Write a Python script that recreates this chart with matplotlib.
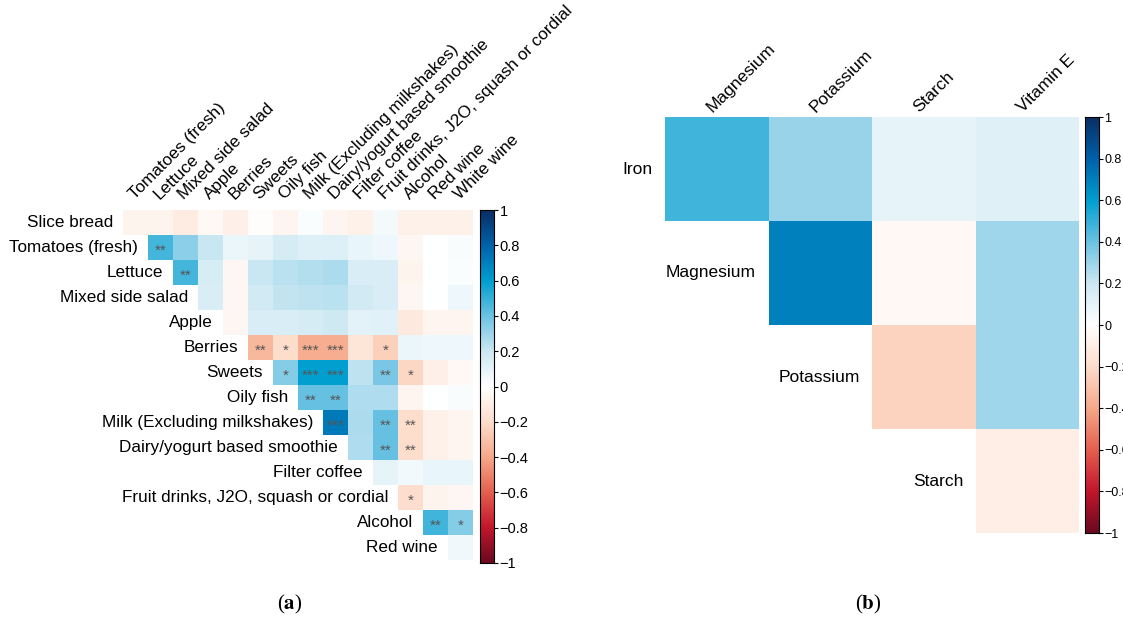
import numpy as np
import matplotlib.pyplot as plt
from matplotlib.colors import LinearSegmentedColormap

plt.rcParams['font.family'] = ['Liberation Sans', 'DejaVu Sans']
plt.rcParams['mathtext.fontset'] = 'stix'

# Panel (a): food groups
food_rows = ["Slice bread", "Tomatoes (fresh)", "Lettuce", "Mixed side salad", "Apple",
             "Berries", "Sweets", "Oily fish", "Milk (Excluding milkshakes)",
             "Dairy/yogurt based smoothie", "Filter coffee",
             "Fruit drinks, J2O, squash or cordial", "Alcohol", "Red wine"]
food_cols = ["Tomatoes (fresh)", "Lettuce", "Mixed side salad", "Apple", "Berries", "Sweets",
             "Oily fish", "Milk (Excluding milkshakes)", "Dairy/yogurt based smoothie",
             "Filter coffee", "Fruit drinks, J2O, squash or cordial", "Alcohol",
             "Red wine", "White wine"]

# upper triangle, row i holds columns i..13
food_corr = [
    [-0.07, -0.07, -0.11, -0.04, -0.09, -0.01, -0.06, 0.02, -0.06, -0.08, 0.04, -0.08, -0.08, -0.08],
    [0.47, 0.33, 0.21, 0.08, 0.10, 0.17, 0.14, 0.14, 0.09, 0.07, -0.05, 0.0, 0.03],
    [0.47, 0.16, -0.05, 0.21, 0.24, 0.25, 0.27, 0.15, 0.15, -0.07, 0.0, 0.02],
    [0.15, -0.05, 0.18, 0.22, 0.23, 0.24, 0.18, 0.15, -0.05, 0.0, 0.07],
    [-0.05, 0.15, 0.15, 0.17, 0.19, 0.11, 0.12, -0.13, -0.06, -0.06],
    [-0.34, -0.2, -0.38, -0.38, -0.15, -0.25, 0.08, 0.07, 0.07],
    [0.35, 0.6, 0.6, 0.23, 0.37, -0.22, -0.09, -0.04],
    [0.41, 0.41, 0.26, 0.26, -0.06, 0.0, 0.03],
    [0.72, 0.27, 0.41, -0.2, -0.08, -0.06],
    [0.26, 0.41, -0.2, -0.08, -0.06],
    [0.1, 0.05, 0.09, 0.09],
    [-0.19, -0.07, -0.05],
    [0.48, 0.35],
    [0.06],
]

food_sig = [
    [""] * 14,
    ["**"] + [""] * 12,
    ["**"] + [""] * 11,
    [""] * 11,
    [""] * 10,
    ["**", "*", "***", "***", "", "*", "", "", ""],
    ["*", "***", "***", "", "**", "*", "", ""],
    ["**", "**", "", "", "", "", ""],
    ["***", "", "**", "**", "", ""],
    ["", "**", "**", "", ""],
    ["", "", "", ""],
    ["*", "", ""],
    ["**", "*"],
    [""],
]

# Panel (b): nutrients
nutr_rows = ["Iron", "Magnesium", "Potassium", "Starch"]
nutr_cols = ["Magnesium", "Potassium", "Starch", "Vitamin E"]
nutr_corr = [
    [0.48, 0.31, 0.1, 0.13],
    [0.70, -0.04, 0.29],
    [-0.24, 0.29],
    [-0.1],
]

cmap = LinearSegmentedColormap.from_list("corr", [
    (0.0, "#6a0a20"), (0.1, "#c3162d"), (0.2, "#e5604e"), (0.3, "#f6a98a"),
    (0.4, "#fdddcc"), (0.5, "#ffffff"), (0.6, "#cde8f3"), (0.7, "#6cc2e2"),
    (0.8, "#009fd0"), (0.9, "#0062aa"), (1.0, "#0a2f64")])

W, H = 1123, 619
fig = plt.figure(figsize=(W / 100, H / 100), dpi=100)


def px_axes(x0, y0, x1, y1):
    return fig.add_axes([x0 / W, 1 - y1 / H, (x1 - x0) / W, (y1 - y0) / H])


def to_matrix(rows, n):
    m = np.full((n, n), np.nan)
    for i, r in enumerate(rows):
        m[i, i:i + len(r)] = r
    return np.ma.masked_invalid(m)


def draw_tri(ax, rows, row_labels, col_labels, fs, row_gap, col_dx, col_dy):
    n = len(col_labels)
    m = to_matrix(rows, n)
    ax.pcolormesh(np.arange(n + 1), np.arange(n + 1), m, cmap=cmap, vmin=-1, vmax=1)
    ax.set_xlim(0, n)
    ax.set_ylim(n, 0)
    ax.axis("off")
    for i, lab in enumerate(row_labels):
        ax.text(i - row_gap, i + 0.5, lab, ha="right", va="center", fontsize=fs,
                clip_on=False)
    for j, lab in enumerate(col_labels):
        ax.text(j + 0.5 + col_dx, -col_dy, lab, rotation=45, rotation_mode="anchor",
                ha="left", va="baseline", fontsize=fs, clip_on=False)


def draw_cbar(cax, fs):
    grad = np.linspace(-1, 1, 256).reshape(-1, 1)
    cax.imshow(grad, cmap=cmap, aspect="auto", origin="lower", extent=[0, 1, -1, 1])
    cax.set_xticks([])
    ticks = np.linspace(-1, 1, 11)
    cax.yaxis.tick_right()
    cax.set_yticks(ticks)
    cax.set_yticklabels([("%g" % round(t, 1)).replace("-", "\u2212") for t in ticks],
                        fontsize=fs)
    cax.tick_params(axis="y", length=3, width=0.8, pad=1)
    for s in cax.spines.values():
        s.set_linewidth(0.8)


# (a)
ax_a = px_axes(123, 210, 473, 560)
draw_tri(ax_a, food_corr, food_rows, food_cols, 12.3, 0.4, -0.04, 0.4)
for i, sig in enumerate(food_sig):
    for k, s in enumerate(sig):
        if s:
            ax_a.text(i + k + 0.5, i + 0.78, s, ha="center", va="baseline",
                      fontsize=11, color="#555555")
draw_cbar(px_axes(480, 210, 494, 563), 10.5)

# (b)
ax_b = px_axes(665, 117, 1079, 533)
draw_tri(ax_b, nutr_corr, nutr_rows, nutr_cols, 12.5, 0.12, -0.04, 0.04)
draw_cbar(px_axes(1085, 117, 1099, 533), 9)

fig.text(290 / W, 1 - 604 / H, r"($\mathbf{a}$)", ha="center", va="center",
         fontsize=15, family="Liberation Serif")
fig.text(868 / W, 1 - 604 / H, r"($\mathbf{b}$)", ha="center", va="center",
         fontsize=15, family="Liberation Serif")

fig.savefig("out.png", dpi=100)
